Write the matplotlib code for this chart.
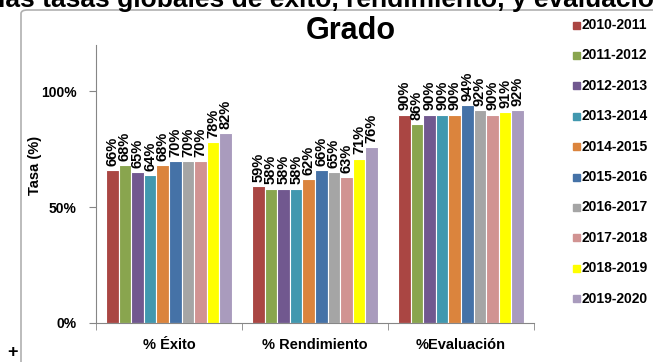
import numpy as np
import matplotlib.pyplot as plt
from matplotlib.patches import Rectangle, FancyBboxPatch

plt.rcParams["font.family"] = ["Liberation Sans", "DejaVu Sans"]
plt.rcParams["font.weight"] = "bold"

categories = ["% Éxito", "% Rendimiento", "%Evaluación"]
seasons = ["2010-2011", "2011-2012", "2012-2013", "2013-2014", "2014-2015",
           "2015-2016", "2016-2017", "2017-2018", "2018-2019", "2019-2020"]
exito = [66, 68, 65, 64, 68, 70, 70, 70, 78, 82]
rendimiento = [59, 58, 58, 58, 62, 66, 65, 63, 71, 76]
evaluacion = [90, 86, 90, 90, 90, 94, 92, 90, 91, 92]
colors = ["#AA4643", "#89A54E", "#71588F", "#4198AF", "#DB843D",
          "#4572A7", "#A5A5A5", "#D19392", "#FFFF00", "#A99BBD"]

W, H = 653, 362
fig = plt.figure(figsize=(W / 100, H / 100), dpi=100)

# chart area border (runs off the right and bottom edges)
frame = FancyBboxPatch((21 / W, -0.2), 1.0, (H - 10) / H + 0.2,
                       boxstyle="round,pad=0,rounding_size=0.01",
                       transform=fig.transFigure, fill=False,
                       edgecolor="#B0B0B0", linewidth=1.2)
fig.patches.append(frame)

# heading cut off at the top
fig.text(-2 / W, 1 - 7 / H, "las tasas globales de éxito, rendimiento, y evaluación",
         ha="left", va="baseline", fontsize=19, fontweight="bold")
fig.text(13 / W, 1 - 353 / H, "+", ha="center", va="center", fontsize=13, fontweight="bold")

ax = fig.add_axes([96 / W, 39 / H, (534 - 96) / W, (323 - 45) / H])

values = np.array([exito, rendimiento, evaluacion])  # categories x seasons
x = np.arange(len(categories))
bw = 0.0863
for j, (season, col) in enumerate(zip(seasons, colors)):
    pos = x + (j - 4.5) * bw
    bars = ax.bar(pos, values[:, j], width=bw, color=col, edgecolor="white",
                  linewidth=0.8, label=season)
    for b, v in zip(bars, values[:, j]):
        ax.annotate(f"{v}%", (b.get_x() + b.get_width() / 2, v),
                    xytext=(0, 3), textcoords="offset points",
                    rotation=90, ha="center", va="bottom",
                    fontsize=10.5, fontweight="bold")

ax.set_xlim(-0.5, 2.5)
ax.set_ylim(0, 120)
ax.set_yticks([0, 50, 100])
ax.set_yticklabels(["0%", "50%", "100%"], fontsize=10, fontweight="bold")
ax.set_xticks(x)
ax.set_xticklabels(categories, fontsize=10.5, fontweight="bold")
ax.set_xticks([-0.5, 0.5, 1.5, 2.5], minor=True)
ax.tick_params(axis="x", which="major", length=0, pad=11)
ax.tick_params(axis="x", which="minor", length=5, color="#868686", direction="out")
ax.tick_params(axis="y", length=5, color="#868686", pad=9)
for s in ["top", "right"]:
    ax.spines[s].set_visible(False)
for s in ["left", "bottom"]:
    ax.spines[s].set_color("#868686")
ax.set_ylabel("Tasa (%)", fontsize=10.5, fontweight="bold")
ax.yaxis.set_label_coords(42 / W, 1 - 165 / H, transform=fig.transFigure)

fig.text(351 / W, 1 - 31 / H, "Grado", ha="center", va="center",
         fontsize=22, fontweight="bold")

# legend
for i, (season, col) in enumerate(zip(seasons, colors)):
    yc = 1 - (25 + i * 30.4) / H
    fig.patches.append(Rectangle((573 / W, yc - 3.5 / H), 7 / W, 7 / H,
                                 transform=fig.transFigure, color=col))
    fig.text(582 / W, yc, season, ha="left", va="center", fontsize=10, fontweight="bold")

fig.savefig("out.png", dpi=100)
